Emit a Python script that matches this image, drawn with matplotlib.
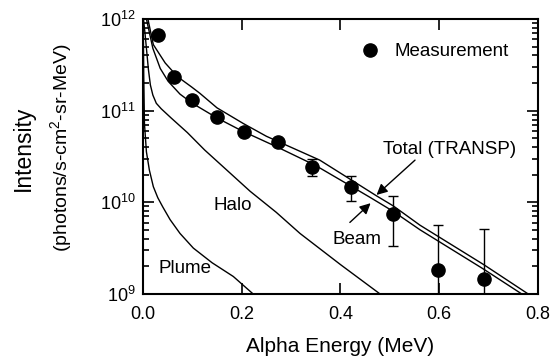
import numpy as np
import matplotlib

matplotlib.use("Agg")
import matplotlib.pyplot as plt
from matplotlib.ticker import LogLocator, NullFormatter

plt.rcParams["font.family"] = ["Liberation Sans", "DejaVu Sans"]
plt.rcParams["mathtext.fontset"] = "custom"
plt.rcParams["mathtext.rm"] = "Liberation Sans"

# Measured points (MeV, photons/s-cm2-sr-MeV)
energy = [0.03, 0.063, 0.10, 0.149, 0.205, 0.273, 0.343, 0.421, 0.507, 0.597, 0.691]
intensity = [6.7e11, 2.33e11, 1.31e11, 8.6e10, 5.8e10, 4.6e10,
             2.45e10, 1.46e10, 7.4e9, 1.83e9, 1.45e9]

# Error bars only on the higher energy points
err_energy = [0.343, 0.421, 0.507, 0.597, 0.691]
err_value = [2.45e10, 1.46e10, 7.4e9, 1.83e9, 1.45e9]
err_top = [2.95e10, 1.94e10, 1.18e10, 5.7e9, 5.07e9]
err_bottom = [1.94e10, 1.02e10, 3.3e9, 5e8, 5e8]

# TRANSP curves, log10 of intensity
total_e = [0.010, 0.021, 0.045, 0.070, 0.098, 0.115, 0.150, 0.203, 0.250,
           0.304, 0.358, 0.420, 0.473, 0.507, 0.561, 0.600, 0.690, 0.780]
total_log = [12.0, 11.72, 11.52, 11.37, 11.26, 11.19, 11.03, 10.86, 10.72,
             10.59, 10.46, 10.25, 10.07, 9.96, 9.75, 9.62, 9.32, 9.0]

beam_e = [0.007, 0.020, 0.035, 0.051, 0.075, 0.100, 0.150, 0.200, 0.273,
          0.350, 0.420, 0.461, 0.507, 0.561, 0.600, 0.690, 0.767]
beam_log = [12.0, 11.68, 11.46, 11.32, 11.18, 11.08, 10.92, 10.78, 10.60,
            10.40, 10.18, 10.05, 9.90, 9.70, 9.57, 9.27, 9.0]

halo_e = [0.001, 0.004, 0.007, 0.011, 0.015, 0.020, 0.027, 0.037, 0.057,
          0.090, 0.125, 0.170, 0.217, 0.270, 0.318, 0.400, 0.480]
halo_log = [12.0, 11.85, 11.68, 11.45, 11.28, 11.17, 11.08, 11.02, 10.92,
            10.76, 10.57, 10.35, 10.12, 9.89, 9.66, 9.32, 9.0]

plume_e = [0.0005, 0.0015, 0.003, 0.007, 0.013, 0.021, 0.030, 0.040, 0.055,
           0.075, 0.102, 0.140, 0.183, 0.223]
plume_log = [12.0, 11.4, 10.86, 10.55, 10.35, 10.17, 10.05, 9.95, 9.81,
             9.66, 9.50, 9.34, 9.19, 9.0]

fig = plt.figure(figsize=(5.52, 3.58), dpi=100)
ax = fig.add_axes([0.259, 0.179, 0.7156, 0.768])

for xs, ls in [(total_e, total_log), (beam_e, beam_log),
               (halo_e, halo_log), (plume_e, plume_log)]:
    ax.plot(xs, 10.0 ** np.array(ls), color="black", lw=1.0)

yerr = [np.array(err_value) - np.array(err_bottom),
        np.array(err_top) - np.array(err_value)]
ax.errorbar(err_energy, err_value, yerr=yerr, fmt="none", ecolor="black",
            elinewidth=1.0, capsize=3.5, capthick=1.0)
ax.plot(energy, intensity, "o", color="black", ms=9.5, ls="none",
        label="Measurement", zorder=5)

ax.set_yscale("log")
ax.set_xlim(0, 0.8)
ax.set_ylim(1e9, 1e12)
ax.set_xticks([0.0, 0.2, 0.4, 0.6, 0.8])
ax.set_xticklabels(["0.0", "0.2", "0.4", "0.6", "0.8"])
ax.yaxis.set_major_locator(LogLocator(base=10, numticks=10))
ax.yaxis.set_minor_locator(LogLocator(base=10, subs=np.arange(2, 10), numticks=10))
ax.yaxis.set_minor_formatter(NullFormatter())
ax.tick_params(which="both", direction="in", top=True, right=True,
               labelsize=13, width=1.2)
ax.tick_params(which="major", length=8)
ax.tick_params(which="minor", length=4)
ax.tick_params(axis="x", which="major", pad=9)
ax.tick_params(axis="y", which="major", pad=5)
for s in ax.spines.values():
    s.set_linewidth(1.5)

ax.set_xlabel("Alpha Energy (MeV)", fontsize=15, labelpad=10)
fig.text(0.042, 0.587, "Intensity", rotation=90, fontsize=16.5,
         ha="center", va="center")
fig.text(0.112, 0.587, "(photons/s-cm$^2$-sr-MeV)", rotation=90,
         fontsize=14, ha="center", va="center")

ax.legend(loc="upper right", bbox_to_anchor=(0.925, 0.912), frameon=False,
          fontsize=13.5, handlelength=1.0, handletextpad=0.8,
          borderpad=0, borderaxespad=0)

arrow = dict(arrowstyle="-|>", color="black", lw=1.0, mutation_scale=16,
             shrinkA=0, shrinkB=0)
ax.text(0.62, 10 ** 10.58, "Total (TRANSP)", fontsize=13.5, ha="center", va="center")
ax.annotate("", xy=(0.473, 10 ** 10.08), xytext=(0.551, 10 ** 10.46),
            arrowprops=arrow)
ax.text(0.434, 10 ** 9.59, "Beam", fontsize=13.5, ha="center", va="center")
ax.annotate("", xy=(0.461, 10 ** 9.99), xytext=(0.419, 10 ** 9.78),
            arrowprops=arrow)
ax.text(0.181, 10 ** 9.97, "Halo", fontsize=13.5, ha="center", va="center")
ax.text(0.086, 10 ** 9.28, "Plume", fontsize=13.5, ha="center", va="center")

fig.savefig("out.png", dpi=100)
